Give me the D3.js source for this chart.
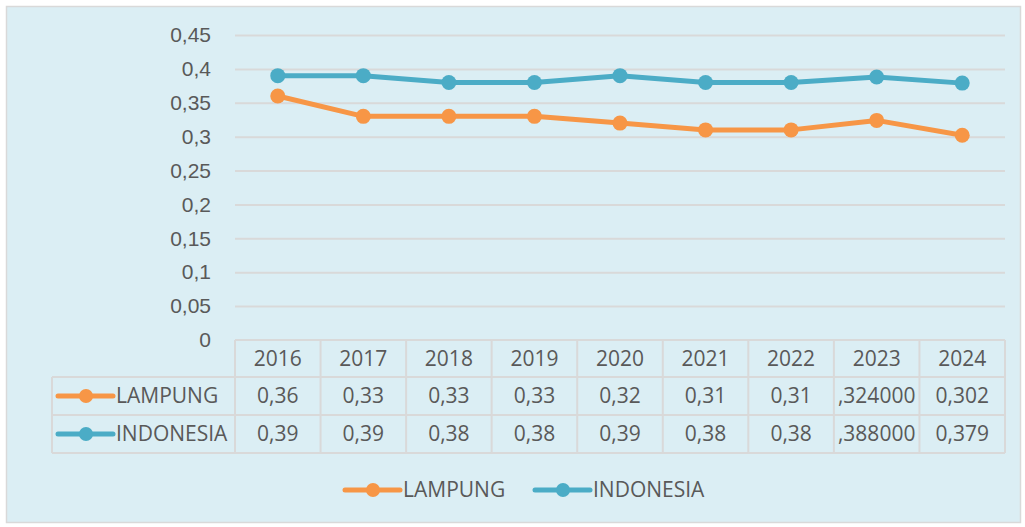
<!DOCTYPE html>
<html>
<head>
<meta charset="utf-8">
<script src="https://cdn.jsdelivr.net/npm/d3@7.9.0/dist/d3.min.js"></script>
<style>
  body { margin: 0; background: #fff; }
  svg { display: block; font-family: "Open Sans", "Noto Sans", sans-serif; }
</style>
</head>
<body>
<svg id="chart" width="1025" height="527"></svg>
<script>
// chart data
const years = ['2016', '2017', '2018', '2019', '2020', '2021', '2022', '2023', '2024'];
const lampung = [0.36, 0.33, 0.33, 0.33, 0.32, 0.31, 0.31, 0.324, 0.302];
const indonesia = [0.39, 0.39, 0.38, 0.38, 0.39, 0.38, 0.38, 0.388, 0.379];
const lampungLabels = ['0,36', '0,33', '0,33', '0,33', '0,32', '0,31', '0,31', ',324000', '0,302'];
const indonesiaLabels = ['0,39', '0,39', '0,38', '0,38', '0,39', '0,38', '0,38', ',388000', '0,379'];
const yTicks = [0, 0.05, 0.1, 0.15, 0.2, 0.25, 0.3, 0.35, 0.4, 0.45];

const series = [
  { name: 'LAMPUNG', values: lampung, labels: lampungLabels, color: '#F79646' },
  { name: 'INDONESIA', values: indonesia, labels: indonesiaLabels, color: '#4BACC6' }
];

const textColor = '#595959';
const gridColor = '#D9D9D9';
const fontSize = '21px';
const plotLeft = 235, plotRight = 1005, plotTop = 35, plotBottom = 340;

const svg = d3.select('#chart');

// background panel with border
svg.append('rect')
  .attr('x', 6.5).attr('y', 6.5)
  .attr('width', 1014).attr('height', 516)
  .attr('fill', '#DBEEF4')
  .attr('stroke', '#D9D9D9')
  .attr('stroke-width', 1.5);

const x = d3.scaleBand().domain(years).range([plotLeft, plotRight]);
const y = d3.scaleLinear().domain([0, 0.45]).range([plotBottom, plotTop]);

// y axis with horizontal gridlines
const yAxis = svg.append('g')
  .attr('transform', `translate(${plotLeft},0)`)
  .call(d3.axisLeft(y).tickValues(yTicks)
    .tickSize(-(plotRight - plotLeft))
    .tickPadding(24)
    .tickFormat(d => d3.format('~g')(d).replace('.', ',')));
yAxis.select('.domain').remove();
yAxis.selectAll('.tick line')
  .attr('stroke', gridColor).attr('stroke-width', 2)
  .filter(d => d === 0).remove();
yAxis.selectAll('.tick text')
  .attr('fill', textColor)
  .style('font-size', fontSize);

// data table under the plot
const rowH = [37, 38, 38];
const rowTop = [plotBottom, plotBottom + 37, plotBottom + 75];
const tableBottom = plotBottom + 113;
const tableLeft = 52;
const grid = svg.append('g').attr('stroke', gridColor).attr('stroke-width', 2).attr('fill', 'none');

// horizontal table lines
grid.append('line').attr('x1', plotLeft).attr('x2', plotRight).attr('y1', plotBottom).attr('y2', plotBottom);
[rowTop[1], rowTop[2], tableBottom].forEach(yy => {
  grid.append('line').attr('x1', tableLeft).attr('x2', plotRight).attr('y1', yy).attr('y2', yy);
});
// vertical table lines
grid.append('line').attr('x1', tableLeft).attr('x2', tableLeft).attr('y1', rowTop[1]).attr('y2', tableBottom);
years.forEach(yr => {
  grid.append('line').attr('x1', x(yr)).attr('x2', x(yr)).attr('y1', plotBottom).attr('y2', tableBottom);
});
grid.append('line').attr('x1', plotRight).attr('x2', plotRight).attr('y1', plotBottom).attr('y2', tableBottom);

// header row
svg.append('g').selectAll('text')
  .data(years)
  .join('text')
  .attr('x', d => x(d) + x.bandwidth() / 2)
  .attr('y', rowTop[0] + rowH[0] / 2)
  .attr('dy', '0.35em')
  .attr('text-anchor', 'middle')
  .attr('fill', textColor)
  .style('font-size', fontSize)
  .text(d => d);

// legend key: line + marker + name
function legendKey(g, s, x0, yy) {
  g.append('line')
    .attr('x1', x0).attr('x2', x0 + 55)
    .attr('y1', yy).attr('y2', yy)
    .attr('stroke', s.color).attr('stroke-width', 5)
    .attr('stroke-linecap', 'round');
  g.append('circle')
    .attr('cx', x0 + 28).attr('cy', yy).attr('r', 7)
    .attr('fill', s.color);
  g.append('text')
    .attr('x', x0 + 58).attr('y', yy).attr('dy', '0.35em')
    .attr('fill', textColor)
    .style('font-size', fontSize)
    .text(s.name);
}

// value rows
series.forEach((s, i) => {
  const cy = rowTop[i + 1] + rowH[i + 1] / 2;
  const g = svg.append('g');
  legendKey(g, s, 58, cy);
  g.selectAll('text.val')
    .data(s.labels)
    .join('text')
    .attr('class', 'val')
    .attr('x', (d, j) => x(years[j]) + x.bandwidth() / 2)
    .attr('y', cy)
    .attr('dy', '0.35em')
    .attr('text-anchor', 'middle')
    .attr('fill', textColor)
    .style('font-size', fontSize)
    .text(d => d);
});

// lines and markers
const line = d3.line()
  .x((d, i) => x(years[i]) + x.bandwidth() / 2)
  .y(d => y(d));

series.forEach(s => {
  svg.append('path')
    .datum(s.values)
    .attr('d', line)
    .attr('fill', 'none')
    .attr('stroke', s.color)
    .attr('stroke-width', 5)
    .attr('stroke-linejoin', 'round');
  svg.append('g').selectAll('circle')
    .data(s.values)
    .join('circle')
    .attr('cx', (d, i) => x(years[i]) + x.bandwidth() / 2)
    .attr('cy', d => y(d))
    .attr('r', 7.5)
    .attr('fill', s.color);
});

// bottom legend
const legend = svg.append('g');
legendKey(legend, series[0], 345, 490);
legendKey(legend, series[1], 535, 490);
</script>
</body>
</html>
